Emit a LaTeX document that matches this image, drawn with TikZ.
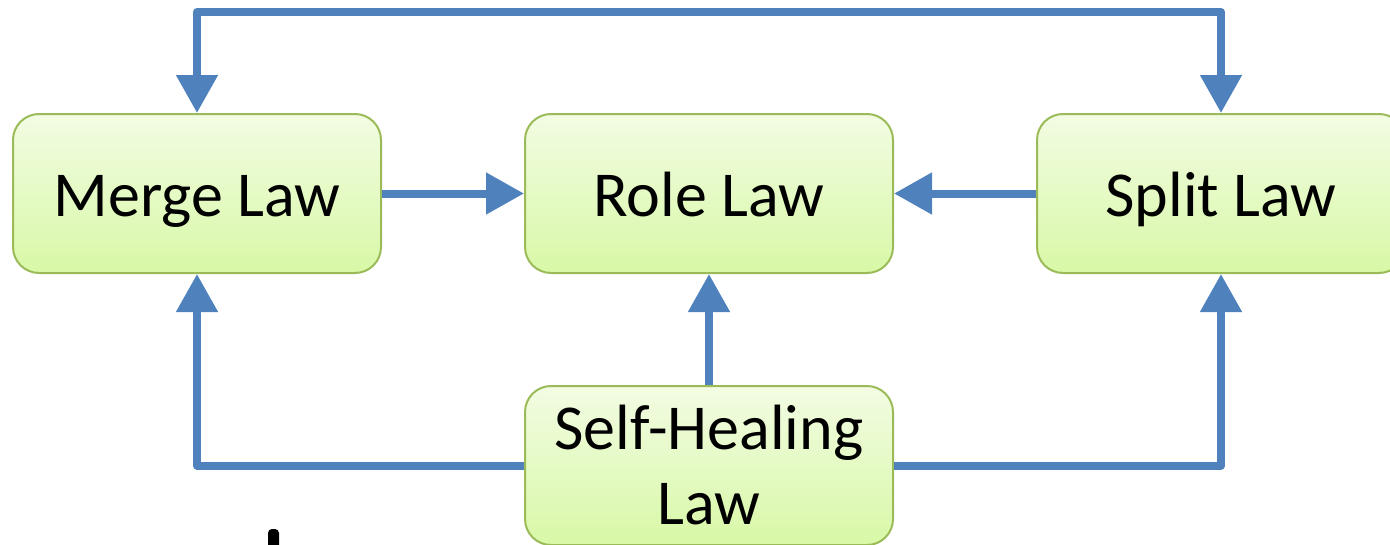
\documentclass[tikz,border=0pt]{standalone}
\usepackage{fontspec}
\setmainfont{Carlito}
\usetikzlibrary{arrows.meta}
\definecolor{arrblue}{HTML}{4F81BD}
\definecolor{boxedge}{HTML}{9BBB59}
\definecolor{boxtop}{HTML}{F2FCE3}
\definecolor{boxbot}{HTML}{D8F8A6}
\tikzset{
  lawbox/.style={draw=boxedge, line width=2pt, rounded corners=26pt,
    top color=boxtop, bottom color=boxbot,
    minimum width=368pt, minimum height=159pt, inner sep=0pt,
    align=center, font=\fontsize{64}{75}\selectfont},
  oneline/.style={text height=58pt, text depth=13pt},
  arr/.style={draw=arrblue, line width=8pt, line join=round,
    -{Triangle[width=40pt,length=38pt]}},
  arr2/.style={draw=arrblue, line width=8pt, line join=round,
    {Triangle[width=40pt,length=38pt]}-{Triangle[width=40pt,length=38pt]}}
}
\begin{document}
\begin{tikzpicture}[x=1pt,y=-1pt]
\clip (0,0) rectangle (1390,544);
\node[lawbox,oneline] (merge) at (197,193.5) {Merge Law};
\node[lawbox,oneline] (role) at (709,193.5) {Role Law};
\node[lawbox,oneline] (split) at (1221,193.5) {Split Law};
\node[lawbox] (self) at (709,465.5) {Self-Healing\\Law};
\coordinate (tl) at (197,12);
\coordinate (tr) at (1221,12);
\draw[arr2] (merge.north) -- (tl) -- (tr) -- (split.north);
\draw[arr] (merge.east) -- (role.west);
\draw[arr] (split.west) -- (role.east);
\draw[arr] (self.north) -- (role.south);
\draw[arr] (self.west) -| (merge.south);
\draw[arr] (self.east) -| (split.south);
\fill[black, rounded corners=4pt] (268,529) rectangle (279,560);
\end{tikzpicture}
\end{document}
